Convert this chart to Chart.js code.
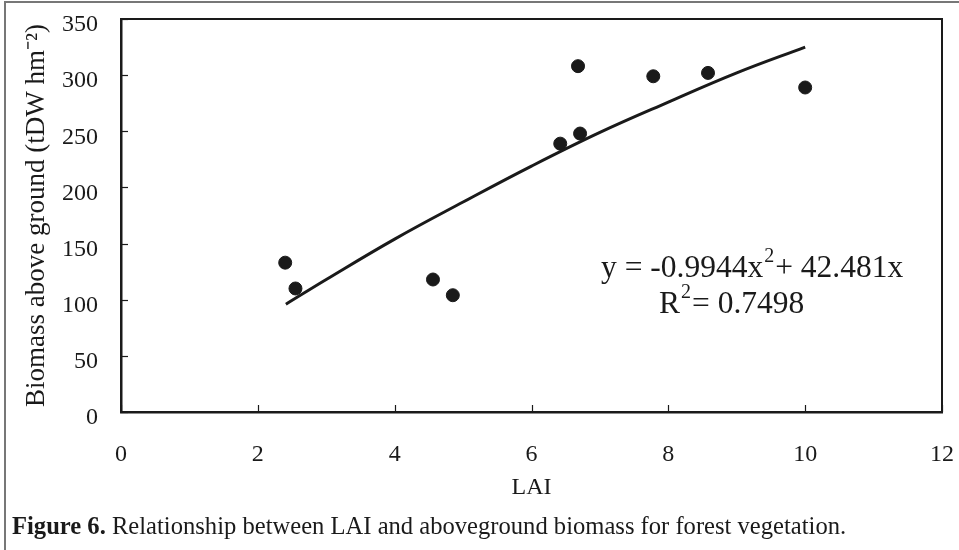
<!DOCTYPE html>
<html>
<head>
<meta charset="utf-8">
<script src="https://cdn.jsdelivr.net/npm/chart.js@4.4.0/dist/chart.umd.min.js"></script>
<style>
  body { margin: 0; background: #fff; }
  #wrap { position: relative; width: 959px; height: 550px; overflow: hidden; }
  #frame { position: absolute; left: 4px; top: 1px; width: 960px; height: 560px;
           border-top: 2px solid #777; border-left: 2px solid #777; }
  #caption { position: absolute; left: 12px; top: 513px; font-family: "Liberation Serif", serif;
             font-size: 24.6px; line-height: 26px; color: #1a1a1a; white-space: nowrap; }
  canvas { position: absolute; left: 0; top: 0; }
</style>
</head>
<body>
<div id="wrap">
  <canvas id="graphique" width="959" height="550"></canvas>
  <div id="frame"></div>
  <div id="caption"><b>Figure 6.</b> Relationship between LAI and aboveground biomass for forest vegetation.</div>
</div>
<script>
// points mesurés (LAI, biomasse)
const laiValues = [2.40, 2.55, 4.56, 4.85, 6.42, 6.71, 6.68, 7.78, 8.58, 10.0];
const biomassValues = [133, 110, 118, 104, 239, 248, 308, 299, 302, 289];

// courbe de tendance
const trendLai = [2.41, 3, 4, 5, 6, 7, 8, 9, 10];
const trendBiomass = [96, 118, 154, 187, 219, 249, 276, 302, 325];

const xTitle = 'LAI';
const yTitle = 'Biomass above ground (tDW hm\u207B\u00B2)';
const eqLine1a = 'y = -0.9944x';
const eqLine1sup = '2';
const eqLine1b = '+ 42.481x';
const eqLine2a = 'R';
const eqLine2sup = '2';
const eqLine2b = '= 0.7498';

const serif = '"Liberation Serif", "Times New Roman", serif';
const ink = '#1a1a1a';

// ticks vers l'intérieur + cadre haut/droite + équation
const extras = {
  id: 'extras',
  afterDatasetsDraw(chart) {
    const ctx = chart.ctx;
    const area = chart.chartArea;
    const sx = chart.scales.x;
    const sy = chart.scales.y;
    ctx.save();
    ctx.strokeStyle = ink;
    ctx.lineWidth = 1.2;
    sy.ticks.forEach((t) => {
      const py = Math.round(sy.getPixelForValue(t.value)) + 0.5;
      ctx.beginPath();
      ctx.moveTo(area.left, py);
      ctx.lineTo(area.left + 7, py);
      ctx.stroke();
    });
    sx.ticks.forEach((t) => {
      const px = Math.round(sx.getPixelForValue(t.value)) + 0.5;
      ctx.beginPath();
      ctx.moveTo(px, area.bottom);
      ctx.lineTo(px, area.bottom - 7);
      ctx.stroke();
    });
    ctx.lineWidth = 2;
    ctx.beginPath();
    ctx.moveTo(area.left, area.top);
    ctx.lineTo(area.right, area.top);
    ctx.lineTo(area.right, area.bottom);
    ctx.stroke();

    // équation
    ctx.fillStyle = ink;
    ctx.textBaseline = 'alphabetic';
    ctx.textAlign = 'left';
    let x = 601;
    ctx.font = '31.5px ' + serif;
    ctx.fillText(eqLine1a, x, 277);
    x += ctx.measureText(eqLine1a).width + 1;
    ctx.font = '20px ' + serif;
    ctx.fillText(eqLine1sup, x, 262);
    x += ctx.measureText(eqLine1sup).width + 1;
    ctx.font = '31.5px ' + serif;
    ctx.fillText(eqLine1b, x, 277);

    x = 659;
    ctx.fillText(eqLine2a, x, 313);
    x += ctx.measureText(eqLine2a).width + 1;
    ctx.font = '20px ' + serif;
    ctx.fillText(eqLine2sup, x, 298);
    x += ctx.measureText(eqLine2sup).width + 1;
    ctx.font = '31.5px ' + serif;
    ctx.fillText(eqLine2b, x, 313);
    ctx.restore();
  }
};

var ctx1 = document.getElementById('graphique').getContext('2d');
var graphique = new Chart(ctx1, {
  type: 'scatter',
  data: {
    datasets: [
      {
        label: 'Biomass',
        data: laiValues.map((value, index) => ({ x: value, y: biomassValues[index] })),
        backgroundColor: ink,
        borderColor: ink,
        pointRadius: 6.5,
        pointHoverRadius: 6.5,
        order: 1
      },
      {
        label: 'Trend',
        type: 'line',
        data: trendLai.map((value, index) => ({ x: value, y: trendBiomass[index] })),
        borderColor: ink,
        borderWidth: 3,
        pointRadius: 0,
        tension: 0.4,
        fill: false,
        order: 2
      }
    ]
  },
  options: {
    responsive: false,
    animation: false,
    events: [],
    layout: { padding: { top: 19, right: 17, bottom: 38, left: 0 } },
    plugins: {
      legend: { display: false },
      tooltip: { enabled: false }
    },
    scales: {
      x: {
        type: 'linear',
        min: 0,
        max: 12,
        afterFit: (scale) => { scale.height = 100; scale.paddingLeft = 0; scale.paddingRight = 0; },
        grid: { display: false, drawTicks: false },
        border: { display: true, color: ink, width: 2.5 },
        ticks: { stepSize: 2, padding: 28, color: ink, font: { family: serif, size: 24 }, maxRotation: 0 },
        title: { display: true, text: xTitle, color: ink, font: { family: serif, size: 24 }, padding: { top: 4, bottom: 10 } }
      },
      y: {
        min: 0,
        max: 350,
        afterFit: (scale) => { scale.width = 121; scale.paddingTop = 0; scale.paddingBottom = 0; },
        grid: { display: false, drawTicks: false },
        border: { display: true, color: ink, width: 2.5 },
        ticks: { stepSize: 50, padding: 23, labelOffset: 6, color: ink, font: { family: serif, size: 24 } },
        title: { display: true, text: yTitle, color: ink, font: { family: serif, size: 27 }, padding: { top: 21, bottom: 0 } }
      }
    }
  },
  plugins: [extras]
});
</script>
</body>
</html>
